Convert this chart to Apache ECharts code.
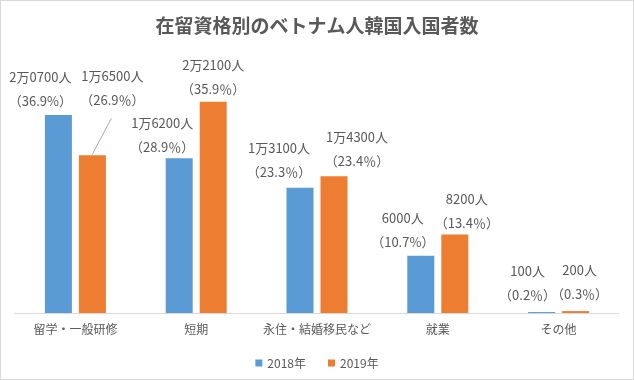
<!DOCTYPE html>
<html><head><meta charset="utf-8">
<script src="https://cdn.jsdelivr.net/npm/echarts@6/dist/echarts.min.js"></script>
<style>html,body{margin:0;padding:0;background:#fff}#c{width:634px;height:380px;box-sizing:border-box;border:1px solid #d9d9d9}</style>
</head><body><div id="c"></div>
<script>
const title = '在留資格別のベトナム人韓国入国者数';
const categories = ['留学・一般研修', '短期', '永住・結婚移民など', '就業', 'その他'];
const seriesNames = ['2018年', '2019年'];
const values2018 = [20700, 16200, 13100, 6000, 100];
const values2019 = [16500, 22100, 14300, 8200, 200];
const pct2018 = ['36.9%', '28.9％', '23.3％', '10.7%', '0.2％'];
const pct2019 = ['26.9％', '35.9％', '23.4％', '13.4％', '0.3％'];
// label placement nudges (dx, dy) per bar
const labelShift2018 = [[-18, 0], [-17, 3], [-21, -2], [-18, 0], [-14, -3]];
const labelShift2019 = [[20, -41], [0, 1], [23, -1], [12, 2], [4, -3]];
const guideLine2019 = [true, false, false, false, false];

function fmtPeople(v) {
  if (v >= 10000) {
    const man = Math.floor(v / 10000);
    const rest = String(v % 10000).padStart(4, '0');
    return man + '万' + rest + '人';
  }
  return v + '人';
}
const TXT = '#595959';
const FONT = '"Noto Sans CJK JP", "Noto Sans", sans-serif';
const BAR_W = 27, BAR_GAP = 7;
const chart = echarts.init(document.getElementById('c'));
function mkLabel(pcts) {
  return {
    show: true, position: 'top', distance: 2,
    color: TXT, fontSize: 13, fontFamily: FONT, lineHeight: 24, align: 'center',
    formatter: p => fmtPeople(p.value) + '\n（' + pcts[p.dataIndex] + '）'
  };
}
const guideData = [];
guideLine2019.forEach((g, i) => { if (g) guideData.push([i, values2019[i]]); });
chart.setOption({
  animation: false,
  textStyle: { fontFamily: FONT },
  title: { text: title, left: 'center', top: 10, textStyle: { color: TXT, fontSize: 19, fontWeight: 'bold', fontFamily: FONT } },
  legend: {
    data: seriesNames, bottom: 5, left: 'center', icon: 'rect', itemWidth: 7, itemHeight: 7, itemGap: 22,
    textStyle: { color: TXT, fontSize: 12, fontFamily: FONT }
  },
  grid: { left: 14, right: 14, top: 73, bottom: 66, containLabel: false },
  xAxis: {
    type: 'category', data: categories,
    axisLine: { lineStyle: { color: '#d9d9d9' } }, axisTick: { show: false },
    axisLabel: { color: TXT, fontSize: 12, margin: 10, fontFamily: FONT, interval: 0 }
  },
  yAxis: { type: 'value', min: 0, max: 25000, show: false, splitLine: { show: false } },
  series: [
    {
      name: seriesNames[0], type: 'bar', data: values2018, barWidth: BAR_W, barGap: (BAR_GAP / BAR_W * 100) + '%',
      itemStyle: { color: '#5b9bd5' }, label: mkLabel(pct2018),
      labelLayout: p => ({ dx: labelShift2018[p.dataIndex][0], dy: labelShift2018[p.dataIndex][1] })
    },
    {
      name: seriesNames[1], type: 'bar', data: values2019,
      barWidth: BAR_W, itemStyle: { color: '#ed7d31' }, label: mkLabel(pct2019),
      labelLayout: p => ({ dx: labelShift2019[p.dataIndex][0], dy: labelShift2019[p.dataIndex][1] })
    },
    {
      type: 'custom', silent: true, z: 5, data: guideData,
      renderItem: (params, api) => {
        const p = api.coord([api.value(0), api.value(1)]);
        const cx = p[0] + (BAR_W + BAR_GAP) / 2;
        const i = api.value(0);
        const sh = labelShift2019[i];
        return {
          type: 'line',
          shape: { x1: cx, y1: p[1] - 1, x2: cx + sh[0] - 1, y2: p[1] + sh[1] + 4 },
          style: { stroke: '#a6a6a6', lineWidth: 1 }
        };
      }
    }
  ]
});
</script></body></html>
